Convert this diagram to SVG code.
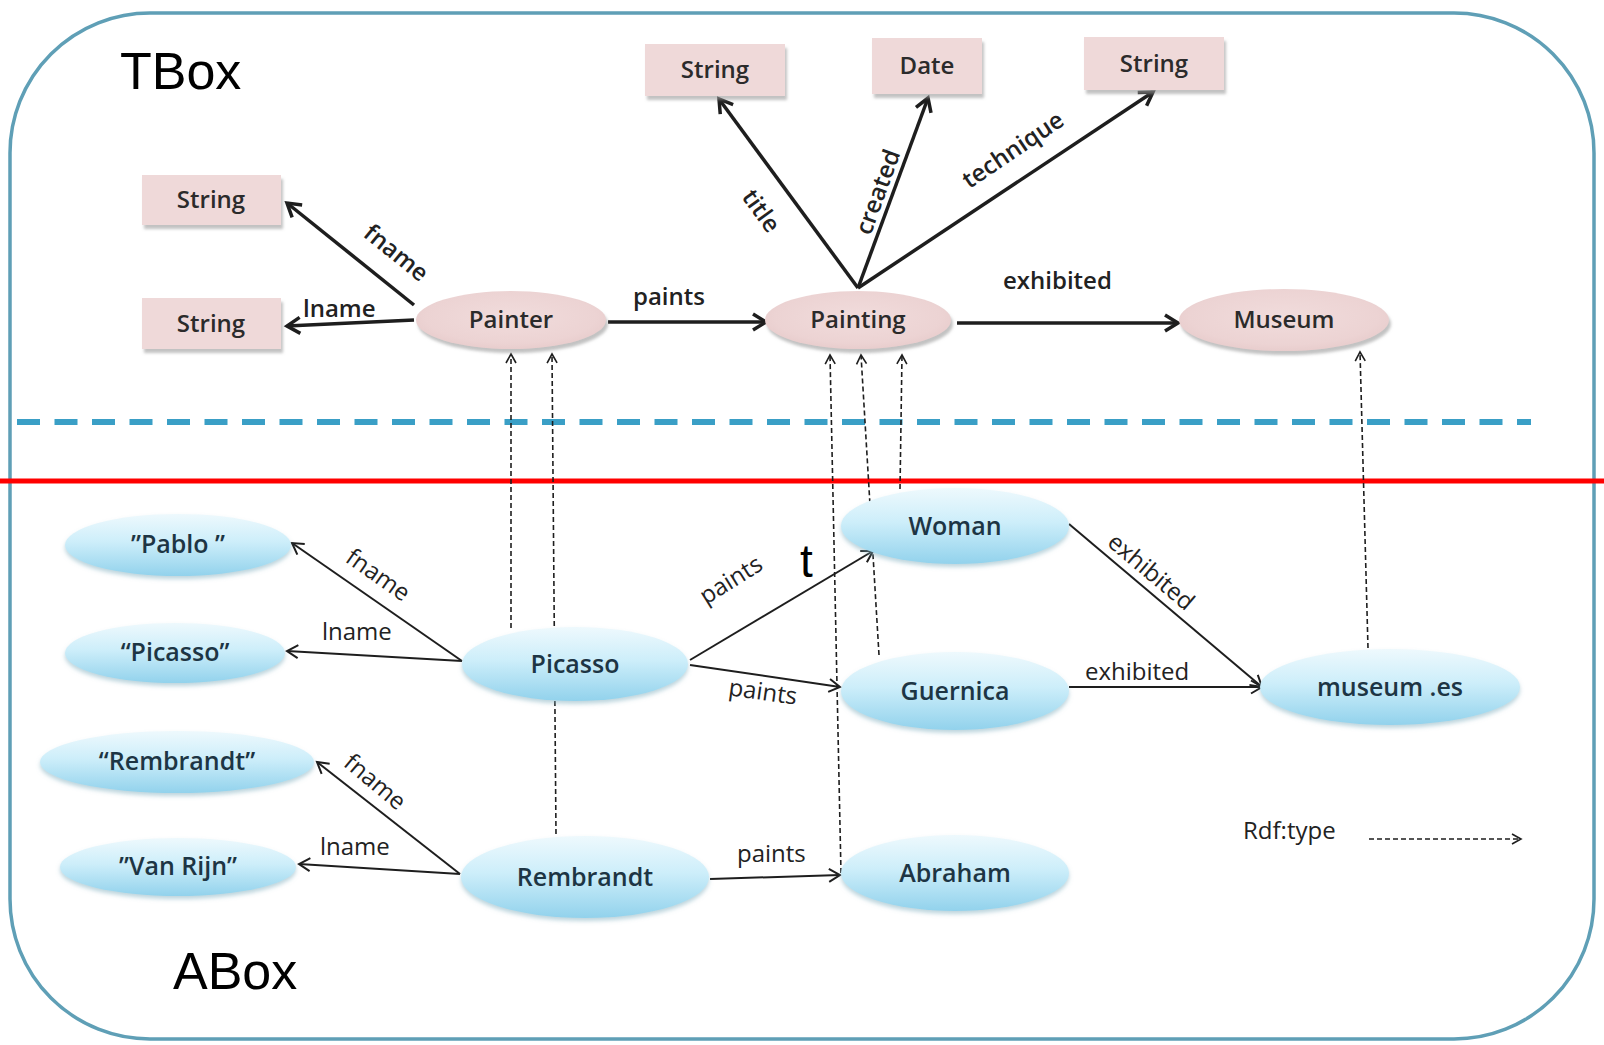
<svg xmlns="http://www.w3.org/2000/svg" width="1604" height="1045" viewBox="0 0 1604 1045">
<defs>
<style>
.frame{fill:none;stroke:#5f9fb6;stroke-width:3.5}
.tbline{stroke:#1e1e1e;stroke-width:3.5;fill:none;marker-end:url(#arrThick)}
.abline{stroke:#1e1e1e;stroke-width:2;fill:none;marker-end:url(#arrThin)}
.typeline{stroke:#1e1e1e;stroke-width:1.6;fill:none;stroke-dasharray:5 3;marker-end:url(#arrDash)}
.trect{fill:#efd9d9;filter:url(#shT)}
.tell{fill:url(#gPink);filter:url(#shT)}
.aell{fill:url(#gBlue);filter:url(#shA)}
.tlabel{font-family:"Open Sans","Noto Sans",sans-serif;font-size:24px;font-weight:600;fill:#2b2b2b;text-anchor:middle}
.alabel{font-family:"Open Sans","Noto Sans",sans-serif;font-size:25px;font-weight:600;fill:#1d3544;text-anchor:middle}
.elabel{font-family:"Open Sans","Noto Sans",sans-serif;font-size:24px;fill:#222}
.tel{font-weight:600}
.big{font-family:"Liberation Sans",Arial,sans-serif;font-size:52px;fill:#000}
</style>
<marker id="arrThick" markerUnits="userSpaceOnUse" markerWidth="20" markerHeight="20" refX="15" refY="9" orient="auto" overflow="visible">
<path d="M2,1 L15,9 L2,17" fill="none" stroke="#1e1e1e" stroke-width="3.5"/>
</marker>
<marker id="arrThin" markerUnits="userSpaceOnUse" markerWidth="16" markerHeight="16" refX="13" refY="8" orient="auto" overflow="visible">
<path d="M2,1.5 L13,8 L2,14.5" fill="none" stroke="#1e1e1e" stroke-width="2"/>
</marker>
<marker id="arrDash" markerUnits="userSpaceOnUse" markerWidth="12" markerHeight="12" refX="10" refY="6" orient="auto" overflow="visible">
<path d="M1,1 L10,6 L1,11" fill="none" stroke="#1e1e1e" stroke-width="1.6"/>
</marker>
<linearGradient id="gBlue" x1="0" y1="0" x2="0" y2="1">
<stop offset="0" stop-color="#eef9fd"/>
<stop offset="0.45" stop-color="#cdeefa"/>
<stop offset="1" stop-color="#92d2ec"/>
</linearGradient>
<radialGradient id="gPink" cx="0.5" cy="0.45" r="0.6">
<stop offset="0" stop-color="#f1dcdc"/>
<stop offset="0.75" stop-color="#ecd3d3"/>
<stop offset="1" stop-color="#e6caca"/>
</radialGradient>
<filter id="shT" x="-20%" y="-20%" width="140%" height="150%">
<feDropShadow dx="2" dy="4" stdDeviation="1.5" flood-color="#9a9a9a" flood-opacity="0.6"/>
</filter>
<filter id="shA" x="-20%" y="-20%" width="140%" height="150%">
<feDropShadow dx="0" dy="3" stdDeviation="2" flood-color="#7aaabb" flood-opacity="0.5"/>
</filter>
</defs>
<rect width="1604" height="1045" fill="#ffffff"/>
<rect class="frame" x="10" y="13" width="1584" height="1026" rx="140" ry="140"/>
<line x1="17" y1="422" x2="1531" y2="422" stroke="#3a9fc6" stroke-width="6" stroke-dasharray="23 14.5"/>
<line x1="0" y1="481" x2="1604" y2="481" stroke="#ff0000" stroke-width="5"/>
<text class="big" x="120" y="89">TBox</text>
<text class="big" x="173" y="989">ABox</text>

<g id="connectors">
<path class="tbline" d="M414,305 L287,203"/>
<path class="tbline" d="M414,320 L287,326"/>
<path class="tbline" d="M608,322 L766,322"/>
<path class="tbline" d="M957,323 L1178,323"/>
<path class="tbline" d="M858,288 L719,99"/>
<path class="tbline" d="M858,288 L928,98"/>
<path class="tbline" d="M858,288 L1153,92"/>
<path class="typeline" d="M511,628 L511,354"/>
<path class="typeline" d="M556,834 L552,354"/>
<path class="typeline" d="M841,873 L830,355"/>
<path class="typeline" d="M879,655 L861,355"/>
<path class="typeline" d="M900,489 L902,355"/>
<path class="typeline" d="M1368,648 L1360,352"/>
<path class="typeline" d="M1369,839 L1521,839"/>
<path class="abline" d="M462,661 L292,543"/>
<path class="abline" d="M462,661 L287,651"/>
<path class="abline" d="M460,874 L317,762"/>
<path class="abline" d="M460,874 L299,864"/>
<path class="abline" d="M690,660 L873,551"/>
<path class="abline" d="M690,665 L840,687"/>
<path class="abline" d="M710,879 L840,875"/>
<path class="abline" d="M1069,524 L1262,687"/>
<path class="abline" d="M1069,687 L1262,687"/>
<text class="elabel tel" text-anchor="middle" transform="translate(396,253) rotate(39)" y="8">fname</text>
<text class="elabel tel" x="303" y="317">lname</text>
<text class="elabel tel" x="633" y="305">paints</text>
<text class="elabel tel" x="1003" y="289">exhibited</text>
<text class="elabel tel" text-anchor="middle" transform="translate(761,211) rotate(54)" y="8">title</text>
<text class="elabel tel" text-anchor="middle" transform="translate(878,192) rotate(-70)" y="8">created</text>
<text class="elabel tel" text-anchor="middle" transform="translate(1013,150) rotate(-34)" y="8">technique</text>
<text class="elabel" text-anchor="middle" transform="translate(378,575) rotate(35)" y="8">fname</text>
<text class="elabel" x="322" y="640">lname</text>
<text class="elabel" text-anchor="middle" transform="translate(375,782) rotate(40)" y="8">fname</text>
<text class="elabel" x="320" y="855">lname</text>
<text class="elabel" text-anchor="middle" transform="translate(731,580) rotate(-32)" y="8">paints</text>
<text class="elabel" text-anchor="middle" transform="translate(763,692) rotate(8)" y="8">paints</text>
<text class="elabel" x="737" y="862">paints</text>
<text class="elabel" text-anchor="middle" transform="translate(1151,572) rotate(40)" y="8">exhibited</text>
<text class="elabel" x="1085" y="680">exhibited</text>
<text class="elabel" x="1243" y="839">Rdf:type</text>
<text x="800" y="577" font-family="Liberation Sans, Arial, sans-serif" font-size="46" fill="#000">t</text>
</g>

<g id="tbox-string-fname"><rect class="trect" x="142" y="175" width="139" height="50"/><text class="tlabel" x="211" y="208">String</text></g>
<g id="tbox-string-lname"><rect class="trect" x="142" y="298" width="139" height="51"/><text class="tlabel" x="211" y="332">String</text></g>
<g id="tbox-string-title"><rect class="trect" x="645" y="44" width="140" height="52"/><text class="tlabel" x="715" y="78">String</text></g>
<g id="tbox-date"><rect class="trect" x="872" y="38" width="110" height="56"/><text class="tlabel" x="927" y="74">Date</text></g>
<g id="tbox-string-technique"><rect class="trect" x="1084" y="37" width="140" height="53"/><text class="tlabel" x="1154" y="72">String</text></g>
<g id="tbox-painter"><ellipse class="tell" cx="511" cy="320" rx="95" ry="29"/><text class="tlabel" x="511" y="328">Painter</text></g>
<g id="tbox-painting"><ellipse class="tell" cx="858" cy="320" rx="93" ry="29"/><text class="tlabel" x="858" y="328">Painting</text></g>
<g id="tbox-museum"><ellipse class="tell" cx="1284" cy="320" rx="105" ry="31"/><text class="tlabel" x="1284" y="328">Museum</text></g>

<g id="abox-pablo"><ellipse class="aell" cx="178" cy="545" rx="113" ry="31"/><text class="alabel" x="178" y="553">”Pablo ”</text></g>
<g id="abox-picasso-lit"><ellipse class="aell" cx="175" cy="653" rx="110" ry="30"/><text class="alabel" x="175" y="661">“Picasso”</text></g>
<g id="abox-rembrandt-lit"><ellipse class="aell" cx="177" cy="762" rx="137" ry="31"/><text class="alabel" x="177" y="770">“Rembrandt”</text></g>
<g id="abox-vanrijn"><ellipse class="aell" cx="178" cy="867" rx="118" ry="29"/><text class="alabel" x="178" y="875">”Van Rijn”</text></g>
<g id="abox-picasso"><ellipse class="aell" cx="575" cy="664" rx="113" ry="37"/><text class="alabel" x="575" y="673">Picasso</text></g>
<g id="abox-rembrandt"><ellipse class="aell" cx="585" cy="877" rx="124" ry="41"/><text class="alabel" x="585" y="886">Rembrandt</text></g>
<g id="abox-woman"><ellipse class="aell" cx="955" cy="526" rx="114" ry="38"/><text class="alabel" x="955" y="535">Woman</text></g>
<g id="abox-guernica"><ellipse class="aell" cx="955" cy="691" rx="114" ry="39"/><text class="alabel" x="955" y="700">Guernica</text></g>
<g id="abox-abraham"><ellipse class="aell" cx="955" cy="873" rx="114" ry="38"/><text class="alabel" x="955" y="882">Abraham</text></g>
<g id="abox-museum-es"><ellipse class="aell" cx="1390" cy="687" rx="130" ry="38"/><text class="alabel" x="1390" y="696">museum .es</text></g>
</svg>
